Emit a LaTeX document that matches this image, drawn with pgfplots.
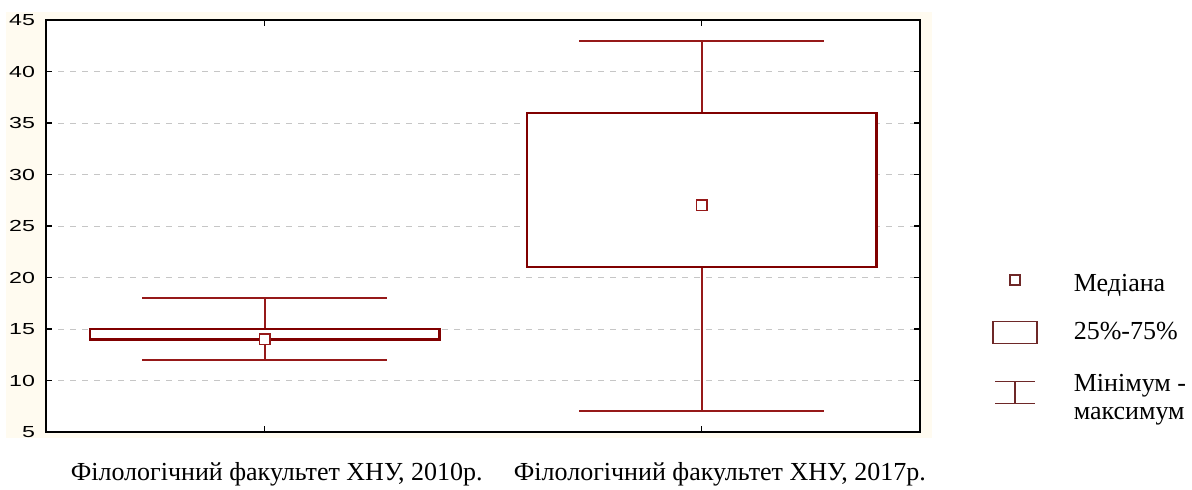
\documentclass[border=0pt]{standalone}
\usepackage{pgfplots}
\pgfplotsset{compat=1.18}
\usepackage{fontspec}
\setmainfont{Liberation Serif}
\newfontfamily\tickfont[FakeStretch=1.45]{Liberation Sans}
\definecolor{boxred}{RGB}{128,0,0}
\definecolor{whisk}{RGB}{150,25,25}
\definecolor{legred}{RGB}{110,40,40}
\definecolor{cream}{RGB}{255,251,240}
\begin{document}
\begin{tikzpicture}
\path[use as bounding box] (0,0) rectangle (596pt,244.5pt);
\fill[cream] (3pt,25.5pt) rectangle (466pt,238.5pt);
\begin{axis}[
  at={(23pt,28.5pt)}, anchor=south west,
  scale only axis, width=437pt, height=206pt,
  xmin=-0.5, xmax=1.5, ymin=5, ymax=45,
  xtick={0,1}, xticklabels={},
  ytick={5,10,...,45},
  ymajorgrids, grid style={dashed, gray!45, line width=0.4pt},
  axis background/.style={fill=white},
  axis line style={black, line width=1pt},
  tick style={black, line width=0.6pt}, major tick length=3pt,
  yticklabel style={font=\tickfont\fontsize{8}{9}\selectfont, xshift=-2pt},
  /pgf/number format/assume math mode=true,
  clip=false, unbounded coords=jump,
  legend style={at={(1.0824,0.394)}, anchor=north west, draw=none, fill=none,
    inner sep=0pt, font=\fontsize{13}{15}\selectfont, row sep=10pt},
  legend cell align=left,
]
\addlegendimage{legend image code/.code={\draw[legred, line width=0.7pt] (8.5pt,-0.5pt) rectangle (13.5pt,4.5pt);}}
\addlegendentry{\hspace*{16pt}Медіана}
\addlegendimage{legend image code/.code={\draw[legred, line width=0.7pt] (0pt,-5.5pt) rectangle (22pt,5.5pt);}}
\addlegendentry{\hspace*{16pt}25\%-75\%}
\addlegendimage{legend image code/.code={\draw[legred, line width=0.7pt] (1pt,-7pt)--(21pt,-7pt) (1pt,4pt)--(21pt,4pt) (11pt,-7pt)--(11pt,4pt);}}
\addlegendentry{\hspace*{16pt}\begin{tabular}{@{}l@{}}Мінімум -\\[-1pt]максимум\end{tabular}}

% whiskers
\addplot[whisk, line width=1pt, forget plot] coordinates {
  (-0.28,18) (0.28,18) (nan,nan) (0,15) (0,18) (nan,nan)
  (-0.28,12) (0.28,12) (nan,nan) (0,12) (0,14) (nan,nan)
  (0.72,43) (1.28,43) (nan,nan) (1,36) (1,43) (nan,nan)
  (0.72,7) (1.28,7) (nan,nan) (1,7) (1,21)
};
% boxes
\addplot[boxred, line width=1.2pt, fill=white, forget plot] coordinates {
  (-0.4,14) (0.4,14) (0.4,15) (-0.4,15) } -- cycle;
\addplot[boxred, line width=1.2pt, fill=white, forget plot] coordinates {
  (0.6,21) (1.4,21) (1.4,36) (0.6,36) } -- cycle;
% medians
\addplot[only marks, forget plot, mark=square*, mark size=2.6pt,
  mark options={fill=white, draw=whisk, line width=0.8pt}]
  coordinates {(0,14) (1,27)};

\node[anchor=base, font=\fontsize{13}{15}\selectfont] at (rel axis cs:0.264,-0.1165) {Філологічний факультет ХНУ, 2010р.};
\node[anchor=base, font=\fontsize{13}{15}\selectfont] at (rel axis cs:0.771,-0.1165) {Філологічний факультет ХНУ, 2017р.};
\end{axis}
\end{tikzpicture}
\end{document}
